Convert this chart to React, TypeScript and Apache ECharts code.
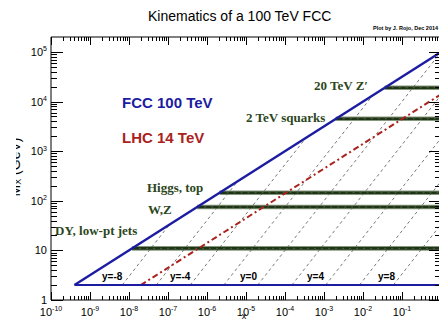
import React, { useEffect, useRef } from 'react';
import * as echarts from 'echarts';

const SANS = '"Liberation Sans", Arial, Helvetica, sans-serif';
const SERIF = '"Liberation Serif", "Times New Roman", serif';

// Axis ranges: momentum fraction x and invariant mass M_X in GeV
const X_MIN = 1e-10;
const X_MAX = 1;
const M_MIN = 1;
const M_MAX = 2e5;

// Decade exponents that carry labelled ticks
const xDecades = [-10, -9, -8, -7, -6, -5, -4, -3, -2, -1, 0];
const yDecades = [0, 1, 2, 3, 4, 5];

// Kinematic reach of each collider, as (x, M_X) end points
const fccEdge = [[4e-10, 2], [1, 1e5]];
const fccFloor = [[4e-10, 2], [1, 2]];
const lhcEdge = [[2.0e-8, 2], [1, 1.4e4]];

// Lines of constant rapidity: start at M_X = 2 GeV, end on the kinematic edge
const rapidityValues = [-8, -6, -4, -2, 0, 2, 4, 6, 8];
const rapidityStartX = [6.7e-9, 5.0e-8, 3.7e-7, 2.7e-6, 2.0e-5, 1.5e-4, 1.1e-3, 8.1e-3, 6.0e-2];
const rapidityEndX = [1.1e-7, 6.1e-6, 3.4e-4, 1.8e-2, 1, 1, 1, 1, 1];
const rapidityEndM = [33.5, 248, 1830, 13500, 1e5, 13500, 1830, 248, 33.5];
const rapidityLabels = ['y=-8', 'y=-4', 'y=0', 'y=4', 'y=8'];

// Typical final-state masses of benchmark processes
const processNames = ['DY, low-pt jets', 'W,Z', 'Higgs, top', '2 TeV squarks', '20 TeV Z\u2032'];
const processMass = [11, 75, 145, 4500, 19000];
const processStartX = [1.2e-8, 5.6e-7, 2.1e-6, 2.0e-3, 3.6e-2];

const BLUE = '#1c1ca2';
const RED = '#aa221e';
const GREEN = '#2c4620';

const supLabel = (v: number) => {
  const e = Math.round(Math.log10(v));
  if (e === 0) return '{b|1}';
  if (e === 1) return '{b|10}';
  return `{b|10}{s|${e}}`;
};

const labelRich = {
  b: { fontSize: 11, fontFamily: SANS, color: '#000', fill: '#000' },
  s: { fontSize: 7, fontFamily: SANS, color: '#000', fill: '#000', verticalAlign: 'top', padding: [0, 0, 6, 0] },
};

function buildTicks() {
  const xTicks: number[][] = [];
  xDecades.forEach((e) => {
    xTicks.push([Math.pow(10, e), M_MIN, 1]);
    if (e < 0) for (let m = 2; m <= 9; m++) xTicks.push([m * Math.pow(10, e), M_MIN, 0]);
  });
  const yTicks: number[][] = [];
  yDecades.forEach((e) => {
    yTicks.push([X_MIN, Math.pow(10, e), 1]);
    for (let m = 2; m <= 9; m++) {
      const v = m * Math.pow(10, e);
      if (v < M_MAX) yTicks.push([X_MIN, v, 0]);
    }
  });
  return { xTicks, yTicks };
}

const seg = (x1: number, y1: number, x2: number, y2: number) => ({
  type: 'line',
  shape: { x1, y1, x2, y2 },
  style: { stroke: '#000', lineWidth: 1 },
});

export default function App() {
  const ref = useRef<HTMLDivElement>(null);

  useEffect(() => {
    if (!ref.current) return;
    const chart = echarts.init(ref.current, undefined, { renderer: 'svg' });
    const { xTicks, yTicks } = buildTicks();

    const rapiditySeries = rapidityValues.map((y, i) => ({
      type: 'line',
      name: `y=${y}`,
      data: [[rapidityStartX[i], 2], [rapidityEndX[i], rapidityEndM[i]]],
      symbol: 'none',
      z: 2,
      lineStyle: { color: '#555', width: 0.8, type: [3, 3] },
    }));

    const bandSeries: any[] = [];
    processMass.forEach((m, i) => {
      const data = [[processStartX[i], m], [X_MAX, m]];
      bandSeries.push({
        type: 'line', data, symbol: 'none', z: 3,
        lineStyle: { color: '#5d7650', width: 4.6, opacity: 0.75 },
      });
      bandSeries.push({
        type: 'line', data, symbol: 'none', z: 3,
        lineStyle: { color: '#1f3317', width: 2.6 },
      });
      bandSeries.push({
        type: 'line', data, symbol: 'none', z: 3,
        lineStyle: { color: '#7e9870', width: 0.8, type: [2, 5], opacity: 0.6 },
      });
    });

    const tickRender = (orient: 'x' | 'y') => (params: any, api: any) => {
      const major = api.value(2) === 1;
      const snap = (v: number) => Math.round(v) + 0.5;
      if (orient === 'x') {
        const v = api.value(0);
        const b = api.coord([v, M_MIN]);
        const t = api.coord([v, M_MAX]);
        const len = major ? 8 : 4;
        const px = snap(b[0]);
        const children: any[] = [seg(px, b[1], px, b[1] - len), seg(px, t[1], px, t[1] + len)];
        if (major && v < X_MAX) {
          children.push({
            type: 'text', x: b[0], y: b[1] + 5,
            style: { text: supLabel(v), align: 'center', verticalAlign: 'top', rich: labelRich },
          });
        }
        return { type: 'group', children };
      }
      const v = api.value(1);
      const l = api.coord([X_MIN, v]);
      const r = api.coord([X_MAX, v]);
      const len = major ? 12 : 6;
      const py = snap(l[1]);
      return { type: 'group', children: [seg(l[0], py, l[0] + len, py), seg(r[0], py, r[0] - len, py)] };
    };

    const processLabelPos = [
      [55, 230], [148, 209], [147, 187], [246, 117], [314, 85],
    ];
    const rapidityLabelPos = [[102, 276], [170, 276], [240, 276], [307, 276], [378, 276]];

    const graphic: any[] = [
      {
        type: 'text', x: 148, y: 16,
        style: { text: 'Kinematics of a 100 TeV FCC', font: `14px ${SANS}`, fill: '#000', verticalAlign: 'middle' },
      },
      {
        type: 'text', x: 373, y: 28,
        style: { text: 'Plot by J. Rojo, Dec 2014', font: `bold 5.5px ${SANS}`, fill: '#000', verticalAlign: 'middle' },
      },
      {
        type: 'text', x: 122, y: 102, z: 20,
        style: { text: 'FCC 100 TeV', font: `bold 15px ${SANS}`, fill: BLUE, verticalAlign: 'middle' },
      },
      {
        type: 'text', x: 122, y: 137, z: 20,
        style: { text: 'LHC 14 TeV', font: `bold 15px ${SANS}`, fill: RED, verticalAlign: 'middle' },
      },
      ...processNames.map((t, i) => ({
        type: 'text', x: processLabelPos[i][0], y: processLabelPos[i][1], z: 20,
        style: { text: t, font: `bold 13px ${SERIF}`, fill: GREEN, verticalAlign: 'middle' },
      })),
      ...rapidityLabels.map((t, i) => ({
        type: 'text', x: rapidityLabelPos[i][0], y: rapidityLabelPos[i][1], z: 20,
        style: { text: t, font: `bold 10px ${SANS}`, fill: '#000', verticalAlign: 'middle' },
      })),
      {
        type: 'text', x: 244, y: 316,
        style: { text: 'x', font: `9px ${SANS}`, fill: '#000', align: 'center', verticalAlign: 'middle' },
      },
      {
        type: 'text', x: 22, y: 167, rotation: Math.PI / 2,
        style: {
          text: '{m|M}{s|X}{m| (GeV)}', align: 'center', verticalAlign: 'bottom',
          rich: {
            m: { fontSize: 14, fontFamily: SANS, fill: '#000' },
            s: { fontSize: 9, fontFamily: SANS, fill: '#000', padding: [6, 0, 0, 0] },
          },
        },
      },
      { type: 'rect', shape: { x: 0, y: 120, width: 16, height: 95 }, style: { fill: '#fff' }, z: 30 },
    ];

    chart.setOption({
      animation: false,
      grid: { left: 51, top: 37, right: 4, bottom: 20, show: true, borderColor: '#000', borderWidth: 1, backgroundColor: 'transparent' },
      xAxis: {
        type: 'log', logBase: 10, min: X_MIN, max: X_MAX,
        axisLine: { show: false }, axisTick: { show: false }, splitLine: { show: false }, minorTick: { show: false },
        axisLabel: { show: false },
      },
      yAxis: {
        type: 'log', logBase: 10, min: M_MIN, max: M_MAX, splitNumber: 6,
        axisLine: { show: false }, axisTick: { show: false }, splitLine: { show: false }, minorTick: { show: false },
        axisLabel: { margin: 4, showMaxLabel: false, formatter: supLabel, rich: labelRich },
      },
      graphic,
      series: [
        ...rapiditySeries,
        ...bandSeries,
        {
          type: 'line', name: 'LHC 14 TeV', data: lhcEdge, symbol: 'none', z: 4,
          lineStyle: { color: RED, width: 2, type: [6, 3, 2, 3] },
        },
        {
          type: 'line', name: 'FCC 100 TeV', data: fccEdge, symbol: 'none', z: 5,
          lineStyle: { color: BLUE, width: 2.4 },
        },
        {
          type: 'line', name: 'FCC floor', data: fccFloor, symbol: 'none', z: 5,
          lineStyle: { color: BLUE, width: 2 },
        },
        {
          type: 'custom', coordinateSystem: 'cartesian2d', clip: false, silent: true, z: 10,
          encode: { x: 0, y: 1 }, data: xTicks, renderItem: tickRender('x'),
        },
        {
          type: 'custom', coordinateSystem: 'cartesian2d', clip: false, silent: true, z: 10,
          encode: { x: 0, y: 1 }, data: yTicks, renderItem: tickRender('y'),
        },
      ],
    });

    return () => chart.dispose();
  }, []);

  return (
    <div
      ref={ref}
      style={{ position: 'fixed', left: 0, top: 0, width: 445, height: 320, background: '#fff' }}
    />
  );
}
